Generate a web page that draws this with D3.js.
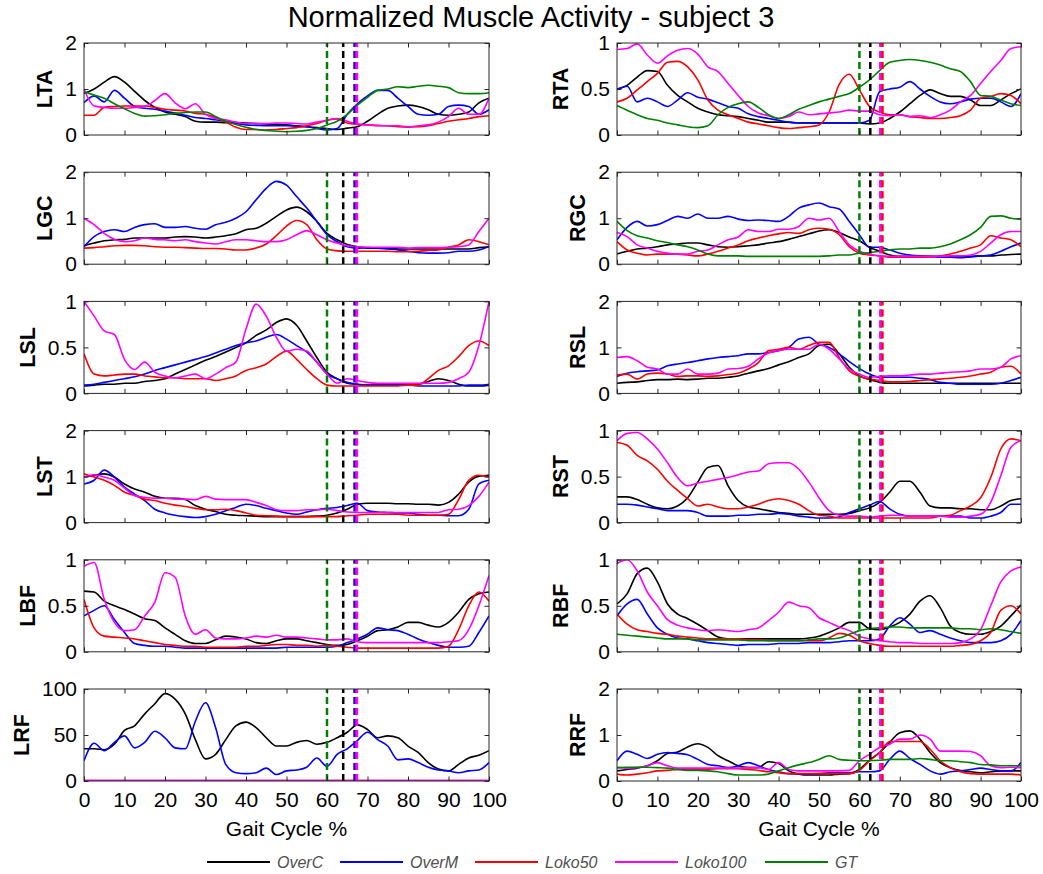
<!DOCTYPE html>
<html><head><meta charset="utf-8">
<script src="https://cdn.jsdelivr.net/npm/d3@7"></script>
<style>body{margin:0;background:#fff;} svg{display:block;}</style>
</head><body><svg id="chart" width="1043" height="874"></svg>
<script>
// ---------------- DATA ----------------
const gaitCycle = [0,2.5,5,7.5,10,12.5,15,17.5,20,22.5,25,27.5,30,32.5,35,37.5,40,42.5,45,47.5,50,52.5,55,57.5,60,62.5,65,67.5,70,72.5,75,77.5,80,82.5,85,87.5,90,92.5,95,97.5,100];
const seriesNames = ["OverC","OverM","Loko50","Loko100","GT"];
const xTickValues = [0,10,20,30,40,50,60,70,80,90,100];
const panelMuscles = ["LTA","RTA","LGC","RGC","LSL","RSL","LST","RST","LBF","RBF","LRF","RRF"];
const panelYTicks = [[0,1,2],[0,0.5,1],[0,1,2],[0,1,2],[0,0.5,1],[0,1,2],[0,1,2],[0,0.5,1],[0,0.5,1],[0,0.5,1],[0,50,100],[0,1,2]];
// toe-off markers (gait cycle %), in series order OverC, OverM, Loko50, Loko100, GT
const toeOffLeft  = [64, 66.8, 67.3, 67.4, 60];
const toeOffRight = [62.7, 65.3, 65.7, 65.2, 60];

const LTA_OverC   = [0.9,1.0,1.15,1.27,1.15,0.95,0.75,0.6,0.5,0.45, 0.4,0.3,0.28,0.28,0.27,0.27,0.26,0.25,0.24,0.23, 0.22,0.2,0.18,0.16,0.14,0.12,0.15,0.18,0.3,0.45, 0.58,0.63,0.65,0.62,0.55,0.45,0.43,0.45,0.5,0.7, 0.8];
const LTA_OverM   = [0.7,0.85,0.72,0.97,0.8,0.62,0.58,0.56,0.52,0.48, 0.43,0.38,0.36,0.33,0.3,0.25,0.22,0.21,0.2,0.2, 0.2,0.19,0.18,0.14,0.11,0.14,0.45,0.68,0.85,0.97, 0.97,0.8,0.62,0.45,0.43,0.45,0.62,0.65,0.62,0.45, 0.55];
const LTA_Loko50  = [0.43,0.43,0.6,0.62,0.63,0.63,0.63,0.6,0.56,0.54, 0.52,0.47,0.45,0.38,0.28,0.17,0.12,0.12,0.11,0.12, 0.14,0.16,0.2,0.25,0.32,0.35,0.26,0.23,0.22,0.21, 0.2,0.18,0.17,0.18,0.2,0.25,0.3,0.33,0.36,0.4, 0.42];
const LTA_Loko100 = [1.0,0.63,0.6,0.58,0.58,0.6,0.62,0.75,0.9,0.7, 0.57,0.68,0.45,0.36,0.33,0.28,0.25,0.25,0.25,0.26, 0.26,0.25,0.24,0.28,0.32,0.36,0.3,0.24,0.22,0.2, 0.2,0.2,0.18,0.2,0.22,0.28,0.4,0.58,0.45,0.45, 0.8];
const LTA_GT      = [0.94,0.87,0.8,0.68,0.57,0.47,0.41,0.42,0.44,0.47, 0.49,0.5,0.5,0.4,0.3,0.23,0.17,0.12,0.1,0.08, 0.07,0.08,0.1,0.14,0.22,0.3,0.45,0.65,0.82,0.97, 1.0,1.05,1.03,1.06,1.08,1.06,1.03,0.92,0.9,0.9, 0.92];

const RTA_OverC   = [0.5,0.54,0.63,0.7,0.69,0.54,0.43,0.36,0.29,0.25, 0.22,0.21,0.2,0.18,0.16,0.14,0.14,0.14,0.13,0.13, 0.13,0.13,0.13,0.13,0.13,0.12,0.13,0.18,0.25,0.34, 0.43,0.49,0.45,0.42,0.42,0.38,0.32,0.32,0.38,0.45, 0.5];
const RTA_OverM   = [0.49,0.53,0.36,0.4,0.36,0.31,0.38,0.46,0.41,0.39, 0.35,0.31,0.29,0.23,0.2,0.18,0.16,0.14,0.13,0.13, 0.13,0.13,0.13,0.13,0.13,0.16,0.47,0.5,0.52,0.58, 0.5,0.42,0.36,0.34,0.36,0.39,0.4,0.4,0.36,0.31, 0.45];
const RTA_Loko50  = [0.36,0.4,0.49,0.58,0.67,0.79,0.8,0.74,0.6,0.38, 0.27,0.22,0.18,0.14,0.12,0.1,0.08,0.07,0.08,0.09, 0.11,0.25,0.55,0.66,0.49,0.31,0.25,0.22,0.22,0.2, 0.19,0.18,0.18,0.19,0.21,0.27,0.4,0.42,0.45,0.43, 0.34];
const RTA_Loko100 = [0.93,0.94,0.99,0.87,0.78,0.86,0.92,0.94,0.88,0.74, 0.69,0.56,0.43,0.31,0.24,0.21,0.18,0.2,0.25,0.22, 0.23,0.24,0.25,0.27,0.26,0.26,0.22,0.21,0.22,0.2, 0.21,0.19,0.22,0.27,0.36,0.43,0.56,0.69,0.81,0.94, 0.96];
const RTA_GT      = [0.32,0.27,0.22,0.18,0.16,0.13,0.11,0.09,0.08,0.1, 0.22,0.3,0.34,0.36,0.3,0.22,0.18,0.22,0.28,0.32, 0.36,0.39,0.42,0.45,0.52,0.6,0.7,0.79,0.81,0.82, 0.81,0.79,0.76,0.72,0.69,0.58,0.43,0.42,0.38,0.34, 0.32];

const LGC_OverC   = [0.4,0.46,0.51,0.53,0.54,0.57,0.57,0.57,0.57,0.59, 0.6,0.59,0.57,0.59,0.62,0.66,0.75,0.78,0.89,1.04, 1.18,1.24,1.14,0.93,0.67,0.53,0.43,0.38,0.35,0.35, 0.35,0.33,0.33,0.33,0.33,0.33,0.33,0.33,0.33,0.36, 0.38];
const LGC_OverM   = [0.38,0.6,0.71,0.75,0.71,0.8,0.86,0.88,0.8,0.8, 0.82,0.78,0.76,0.86,0.91,1.0,1.14,1.4,1.65,1.8, 1.72,1.47,1.22,0.93,0.64,0.49,0.38,0.35,0.36,0.35, 0.33,0.31,0.28,0.25,0.24,0.24,0.25,0.28,0.28,0.31, 0.38];
const LGC_Loko50  = [0.35,0.36,0.38,0.4,0.41,0.41,0.4,0.38,0.37,0.37, 0.36,0.35,0.34,0.34,0.33,0.31,0.31,0.35,0.44,0.62, 0.83,0.95,0.86,0.53,0.33,0.29,0.28,0.28,0.28,0.28, 0.28,0.27,0.27,0.28,0.3,0.31,0.37,0.42,0.53,0.49, 0.42];
const LGC_Loko100 = [1.0,0.86,0.67,0.54,0.49,0.51,0.57,0.54,0.53,0.51, 0.53,0.49,0.46,0.44,0.49,0.53,0.53,0.51,0.49,0.49, 0.53,0.64,0.73,0.64,0.53,0.46,0.4,0.38,0.37,0.37, 0.37,0.37,0.35,0.36,0.36,0.36,0.37,0.38,0.42,0.71, 1.0];

const RGC_OverC   = [0.22,0.28,0.33,0.35,0.38,0.42,0.44,0.46,0.46,0.42, 0.38,0.37,0.38,0.4,0.42,0.46,0.49,0.54,0.6,0.66, 0.72,0.75,0.69,0.59,0.51,0.37,0.28,0.2,0.17,0.17, 0.17,0.17,0.17,0.17,0.17,0.17,0.18,0.18,0.2,0.21, 0.22];
const RGC_OverM   = [0.53,0.8,0.93,0.83,0.86,0.95,1.04,1.0,1.09,1.0, 1.0,1.04,0.98,0.95,0.96,0.95,0.93,1.04,1.22,1.29, 1.33,1.25,1.2,0.93,0.64,0.37,0.37,0.31,0.24,0.2, 0.18,0.17,0.15,0.15,0.14,0.16,0.18,0.2,0.28,0.38, 0.46];
const RGC_Loko50  = [0.49,0.31,0.24,0.2,0.22,0.22,0.22,0.2,0.18,0.22, 0.28,0.35,0.42,0.51,0.57,0.62,0.66,0.69,0.67,0.75, 0.78,0.76,0.64,0.38,0.24,0.2,0.18,0.15,0.15,0.15, 0.15,0.16,0.18,0.22,0.28,0.35,0.42,0.62,0.57,0.53, 0.38];
const RGC_Loko100 = [0.69,0.6,0.42,0.35,0.28,0.24,0.22,0.22,0.28,0.31, 0.42,0.53,0.59,0.75,0.71,0.71,0.76,0.76,0.82,1.0, 0.96,1.0,0.71,0.42,0.28,0.22,0.18,0.17,0.17,0.17, 0.17,0.17,0.17,0.18,0.18,0.2,0.28,0.46,0.64,0.71, 0.71];
const RGC_GT      = [0.93,0.73,0.62,0.57,0.51,0.47,0.42,0.38,0.31,0.22, 0.18,0.18,0.18,0.17,0.17,0.17,0.17,0.17,0.17,0.17, 0.17,0.18,0.2,0.2,0.24,0.25,0.28,0.31,0.33,0.33, 0.35,0.35,0.38,0.44,0.53,0.64,0.8,1.04,1.05,1.0, 0.98];

const LSL_OverC   = [0.08,0.09,0.1,0.1,0.11,0.11,0.13,0.14,0.16,0.21, 0.26,0.31,0.36,0.4,0.45,0.5,0.55,0.63,0.69,0.77, 0.81,0.74,0.57,0.39,0.23,0.16,0.11,0.1,0.09,0.09, 0.09,0.09,0.09,0.1,0.13,0.16,0.14,0.1,0.08,0.08, 0.09];
const LSL_OverM   = [0.09,0.1,0.12,0.14,0.16,0.18,0.21,0.25,0.28,0.31, 0.34,0.37,0.4,0.44,0.48,0.52,0.55,0.57,0.61,0.64, 0.59,0.52,0.45,0.34,0.21,0.16,0.12,0.1,0.09,0.09, 0.09,0.09,0.09,0.08,0.08,0.08,0.08,0.08,0.09,0.09, 0.1];
const LSL_Loko50  = [0.43,0.21,0.19,0.2,0.21,0.21,0.19,0.18,0.17,0.17, 0.16,0.16,0.16,0.14,0.16,0.19,0.25,0.28,0.32,0.4, 0.46,0.37,0.26,0.16,0.09,0.08,0.08,0.08,0.08,0.08, 0.08,0.08,0.09,0.09,0.16,0.25,0.3,0.4,0.52,0.57, 0.52];
const LSL_Loko100 = [1.0,0.84,0.68,0.64,0.37,0.26,0.34,0.23,0.19,0.17, 0.19,0.21,0.16,0.21,0.28,0.34,0.7,0.97,0.84,0.61, 0.46,0.48,0.46,0.34,0.21,0.11,0.16,0.14,0.12,0.11, 0.11,0.11,0.11,0.11,0.11,0.11,0.12,0.16,0.23,0.52, 1.0];

const RSL_OverC   = [0.22,0.24,0.25,0.28,0.3,0.3,0.31,0.3,0.31,0.33, 0.33,0.35,0.38,0.44,0.49,0.54,0.62,0.69,0.78,0.86, 1.04,1.07,0.86,0.57,0.38,0.3,0.24,0.22,0.22,0.22, 0.22,0.22,0.22,0.22,0.22,0.22,0.22,0.22,0.22,0.22, 0.22];
const RSL_OverM   = [0.37,0.44,0.47,0.49,0.51,0.6,0.64,0.67,0.71,0.75, 0.78,0.8,0.82,0.86,0.86,0.89,0.93,1.0,1.18,1.22, 1.07,1.0,0.86,0.69,0.54,0.42,0.35,0.35,0.35,0.35, 0.33,0.3,0.24,0.22,0.2,0.2,0.2,0.2,0.22,0.28, 0.35];
const RSL_Loko50  = [0.4,0.42,0.31,0.42,0.44,0.42,0.37,0.38,0.38,0.37, 0.38,0.41,0.44,0.53,0.67,0.93,0.96,1.0,0.96,1.04, 1.11,1.11,0.78,0.49,0.37,0.31,0.28,0.25,0.25,0.26, 0.28,0.3,0.31,0.33,0.35,0.38,0.42,0.46,0.57,0.59, 0.42];
const RSL_Loko100 = [0.78,0.8,0.71,0.57,0.53,0.42,0.42,0.53,0.42,0.42, 0.44,0.53,0.54,0.59,0.75,0.88,0.93,0.96,0.96,0.96, 1.07,0.96,0.75,0.53,0.42,0.35,0.37,0.38,0.38,0.4, 0.42,0.42,0.44,0.46,0.47,0.49,0.53,0.53,0.57,0.75, 0.82];

const LST_OverC   = [0.99,1.03,1.06,0.99,0.84,0.73,0.66,0.57,0.53,0.53, 0.5,0.37,0.29,0.24,0.18,0.16,0.15,0.14,0.13,0.13, 0.13,0.13,0.13,0.14,0.16,0.21,0.29,0.4,0.42,0.42, 0.42,0.41,0.41,0.4,0.4,0.38,0.44,0.62,0.88,1.01, 1.03];
const LST_OverM   = [0.84,0.92,1.14,0.99,0.77,0.62,0.48,0.29,0.21,0.16, 0.13,0.11,0.13,0.18,0.26,0.33,0.4,0.37,0.31,0.26, 0.21,0.18,0.23,0.28,0.31,0.33,0.37,0.42,0.26,0.23, 0.22,0.21,0.21,0.18,0.16,0.16,0.15,0.15,0.29,0.84, 0.92];
const LST_Loko50  = [1.06,0.99,0.92,0.81,0.66,0.59,0.51,0.48,0.42,0.38, 0.35,0.31,0.28,0.28,0.29,0.26,0.21,0.16,0.15,0.14, 0.13,0.13,0.13,0.13,0.13,0.13,0.15,0.16,0.18,0.18, 0.18,0.18,0.16,0.16,0.16,0.16,0.18,0.5,0.92,1.03, 0.99];
const LST_Loko100 = [0.99,1.04,0.99,0.92,0.75,0.59,0.55,0.53,0.53,0.51, 0.51,0.5,0.57,0.51,0.5,0.5,0.5,0.44,0.37,0.28, 0.26,0.26,0.28,0.28,0.29,0.26,0.23,0.22,0.22,0.22, 0.22,0.22,0.22,0.22,0.22,0.22,0.28,0.29,0.37,0.57, 0.88];

const RST_OverC   = [0.28,0.28,0.25,0.2,0.16,0.15,0.18,0.27,0.44,0.6, 0.62,0.4,0.24,0.17,0.15,0.13,0.11,0.1,0.09,0.09, 0.09,0.09,0.09,0.1,0.13,0.16,0.22,0.33,0.45,0.45, 0.33,0.18,0.16,0.16,0.15,0.15,0.14,0.14,0.18,0.24, 0.26];
const RST_OverM   = [0.2,0.2,0.19,0.17,0.15,0.13,0.13,0.13,0.11,0.07, 0.07,0.07,0.08,0.08,0.09,0.09,0.1,0.09,0.07,0.06, 0.05,0.05,0.06,0.11,0.15,0.19,0.23,0.15,0.09,0.07, 0.07,0.07,0.07,0.07,0.07,0.05,0.05,0.07,0.11,0.2, 0.2];
const RST_Loko50  = [0.87,0.84,0.73,0.67,0.58,0.45,0.35,0.26,0.18,0.2, 0.17,0.15,0.15,0.17,0.2,0.24,0.26,0.24,0.2,0.13, 0.08,0.07,0.05,0.05,0.05,0.05,0.05,0.05,0.05,0.05, 0.05,0.05,0.07,0.08,0.13,0.18,0.27,0.49,0.8,0.91, 0.89];
const RST_Loko100 = [0.89,0.97,0.98,0.91,0.8,0.65,0.49,0.4,0.43,0.45, 0.47,0.49,0.52,0.55,0.56,0.64,0.65,0.65,0.58,0.44, 0.27,0.13,0.08,0.07,0.07,0.06,0.07,0.08,0.08,0.07, 0.07,0.07,0.07,0.06,0.06,0.07,0.09,0.22,0.51,0.82, 0.89];

const LBF_OverC   = [0.66,0.65,0.55,0.5,0.46,0.41,0.36,0.34,0.26,0.19, 0.12,0.09,0.09,0.13,0.17,0.16,0.14,0.1,0.09,0.12, 0.14,0.14,0.12,0.1,0.08,0.07,0.08,0.12,0.17,0.23, 0.24,0.27,0.32,0.32,0.29,0.27,0.32,0.43,0.57,0.63, 0.65];
const LBF_OverM   = [0.39,0.45,0.5,0.35,0.21,0.09,0.07,0.06,0.06,0.05, 0.04,0.04,0.04,0.04,0.04,0.04,0.04,0.04,0.04,0.04, 0.05,0.05,0.05,0.05,0.05,0.06,0.1,0.14,0.19,0.26, 0.24,0.23,0.19,0.14,0.1,0.07,0.05,0.05,0.06,0.21, 0.39];
const LBF_Loko50  = [0.57,0.26,0.17,0.16,0.15,0.14,0.12,0.1,0.08,0.07, 0.06,0.06,0.05,0.05,0.05,0.05,0.06,0.06,0.07,0.08, 0.08,0.07,0.07,0.06,0.07,0.06,0.05,0.04,0.04,0.04, 0.04,0.04,0.04,0.04,0.04,0.04,0.06,0.24,0.5,0.65, 0.55];
const LBF_Loko100 = [0.93,0.97,0.57,0.32,0.23,0.24,0.39,0.54,0.86,0.81, 0.39,0.19,0.24,0.15,0.14,0.14,0.15,0.17,0.16,0.18, 0.16,0.16,0.15,0.14,0.13,0.13,0.14,0.11,0.1,0.1, 0.1,0.1,0.1,0.1,0.1,0.1,0.11,0.12,0.24,0.5, 0.83];

const RBF_OverC   = [0.52,0.63,0.85,0.91,0.76,0.52,0.41,0.36,0.3,0.23, 0.16,0.14,0.14,0.14,0.14,0.14,0.14,0.14,0.14,0.15, 0.17,0.21,0.26,0.32,0.32,0.25,0.24,0.27,0.32,0.41, 0.55,0.61,0.48,0.28,0.21,0.19,0.19,0.22,0.28,0.39, 0.51];
const RBF_OverM   = [0.39,0.52,0.57,0.41,0.26,0.19,0.15,0.14,0.12,0.1, 0.09,0.08,0.07,0.08,0.08,0.08,0.09,0.09,0.09,0.1, 0.1,0.1,0.11,0.12,0.12,0.12,0.14,0.28,0.37,0.3, 0.21,0.23,0.19,0.15,0.12,0.1,0.1,0.1,0.12,0.19, 0.34];
const RBF_Loko50  = [0.41,0.3,0.24,0.22,0.2,0.19,0.17,0.16,0.15,0.14, 0.14,0.14,0.14,0.13,0.13,0.12,0.12,0.12,0.12,0.12, 0.12,0.15,0.2,0.18,0.12,0.09,0.07,0.06,0.06,0.06, 0.06,0.06,0.06,0.06,0.07,0.08,0.12,0.21,0.45,0.5, 0.41];
const RBF_Loko100 = [0.96,1.0,0.88,0.65,0.5,0.35,0.29,0.26,0.24,0.23, 0.24,0.23,0.22,0.24,0.26,0.34,0.43,0.54,0.5,0.48, 0.37,0.32,0.27,0.23,0.17,0.14,0.12,0.11,0.1,0.1, 0.09,0.09,0.09,0.09,0.1,0.14,0.24,0.5,0.76,0.88, 0.92];
const RBF_GT      = [0.19,0.18,0.17,0.16,0.15,0.14,0.14,0.14,0.13,0.13, 0.13,0.13,0.13,0.12,0.12,0.12,0.12,0.12,0.12,0.13, 0.14,0.14,0.15,0.19,0.23,0.25,0.26,0.27,0.27,0.26, 0.26,0.26,0.26,0.26,0.25,0.25,0.24,0.25,0.24,0.22, 0.2];

const LRF_OverC   = [35,35,34,40,55,60,73,84,95,89, 73,45,24,29,45,60,64,58,47,38, 38,42,44,40,42,47,53,61,56,47, 49,47,38,31,20,13,11,18,25,28, 33];
const LRF_OverM   = [22,41,33,42,49,36,42,54,47,36, 35,65,85,58,18,9,8,9,14,7, 11,12,15,25,16,29,35,44,53,45, 38,23,24,20,15,12,11,9,11,12, 20];
const LRF_Loko50  = [0.5,0.5,0.5,0.5,0.5,0.5,0.5,0.5,0.5,0.5, 0.5,0.5,0.5,0.5,0.5,0.5,0.5,0.5,0.5,0.5, 0.5,0.5,0.5,0.5,0.5,0.5,0.5,0.5,0.5,0.5, 0.5,0.5,0.5,0.5,0.5,0.5,0.5,0.5,0.5,0.5, 0.5];
const LRF_Loko100 = [0.5,0.5,0.5,0.5,0.5,0.5,0.5,0.5,0.5,0.5, 0.5,0.5,0.5,0.5,0.5,0.5,0.5,0.5,0.5,0.5, 0.5,0.5,0.5,0.5,0.5,0.5,0.5,0.5,0.5,0.5, 0.5,0.5,0.5,0.5,0.5,0.5,0.5,0.5,0.5,0.5, 0.5];

const RRF_OverC   = [0.22,0.25,0.28,0.33,0.44,0.6,0.63,0.74,0.81,0.73, 0.55,0.44,0.33,0.29,0.29,0.42,0.38,0.22,0.15,0.13, 0.13,0.13,0.15,0.16,0.25,0.45,0.62,0.84,1.05,1.09, 0.91,0.62,0.4,0.29,0.23,0.2,0.18,0.2,0.22,0.22, 0.22];
const RRF_OverM   = [0.44,0.65,0.58,0.49,0.58,0.62,0.6,0.57,0.47,0.36, 0.33,0.29,0.33,0.4,0.33,0.25,0.2,0.16,0.15,0.15, 0.16,0.18,0.18,0.18,0.2,0.2,0.22,0.47,0.65,0.49, 0.36,0.22,0.15,0.2,0.22,0.25,0.28,0.25,0.22,0.22, 0.4];
const RRF_Loko50  = [0.15,0.13,0.15,0.18,0.22,0.23,0.25,0.25,0.25,0.25, 0.27,0.27,0.27,0.25,0.23,0.2,0.18,0.16,0.16,0.16, 0.16,0.16,0.16,0.16,0.23,0.44,0.62,0.86,0.86,0.86, 0.86,0.69,0.44,0.29,0.2,0.16,0.15,0.15,0.15,0.15, 0.13];
const RRF_Loko100 = [0.29,0.28,0.29,0.33,0.4,0.33,0.28,0.28,0.28,0.28, 0.28,0.28,0.28,0.29,0.29,0.25,0.4,0.25,0.22,0.22, 0.22,0.22,0.22,0.23,0.44,0.58,0.73,0.8,0.91,0.91, 1.0,0.91,0.65,0.65,0.65,0.64,0.55,0.33,0.29,0.3, 0.29];
const RRF_GT      = [0.29,0.3,0.3,0.3,0.29,0.28,0.25,0.23,0.23,0.22, 0.2,0.16,0.13,0.13,0.13,0.15,0.22,0.29,0.35,0.4, 0.47,0.55,0.47,0.45,0.44,0.44,0.45,0.47,0.47,0.47, 0.49,0.47,0.44,0.44,0.42,0.4,0.36,0.35,0.33,0.33, 0.33];

// table built from the arrays above (order: OverC, OverM, Loko50, Loko100, GT)
const panelSeries = {
  LTA: [LTA_OverC, LTA_OverM, LTA_Loko50, LTA_Loko100, LTA_GT],
  RTA: [RTA_OverC, RTA_OverM, RTA_Loko50, RTA_Loko100, RTA_GT],
  LGC: [LGC_OverC, LGC_OverM, LGC_Loko50, LGC_Loko100, null],
  RGC: [RGC_OverC, RGC_OverM, RGC_Loko50, RGC_Loko100, RGC_GT],
  LSL: [LSL_OverC, LSL_OverM, LSL_Loko50, LSL_Loko100, null],
  RSL: [RSL_OverC, RSL_OverM, RSL_Loko50, RSL_Loko100, null],
  LST: [LST_OverC, LST_OverM, LST_Loko50, LST_Loko100, null],
  RST: [RST_OverC, RST_OverM, RST_Loko50, RST_Loko100, null],
  LBF: [LBF_OverC, LBF_OverM, LBF_Loko50, LBF_Loko100, null],
  RBF: [RBF_OverC, RBF_OverM, RBF_Loko50, RBF_Loko100, RBF_GT],
  LRF: [LRF_OverC, LRF_OverM, LRF_Loko50, LRF_Loko100, null],
  RRF: [RRF_OverC, RRF_OverM, RRF_Loko50, RRF_Loko100, RRF_GT]
};

// ---------------- STYLE / LAYOUT ----------------
const seriesColors = ["#000000","#0000ff","#ff0000","#ff00ff","#008000"];
const FONT = '"Liberation Sans", Arial, Helvetica, sans-serif';
const colLeft = [84, 617], colRight = [489, 1021];
const rowTop0 = 43, rowStep = 129.2, plotH = 92;
const axisColor = "#262626";

const svg = d3.select("#chart").attr("font-family", FONT);

svg.append("text").attr("x", 531).attr("y", 26.5).attr("text-anchor", "middle")
  .attr("font-size", 29).attr("fill", "#000").text("Normalized Muscle Activity - subject 3");

const defs = svg.append("defs");

panelMuscles.forEach((m, i) => {
  const col = i % 2, row = Math.floor(i / 2);
  const x0 = colLeft[col], x1 = colRight[col];
  const y0 = rowTop0 + row * rowStep, y1 = y0 + plotH;
  const ticks = panelYTicks[i];
  const x = d3.scaleLinear().domain([0, 100]).range([x0, x1]);
  const y = d3.scaleLinear().domain([0, ticks[ticks.length - 1]]).range([y1, y0]);
  const g = svg.append("g");

  const cid = "clip" + i;
  defs.append("clipPath").attr("id", cid).append("rect")
    .attr("x", x0).attr("y", y0).attr("width", x1 - x0).attr("height", plotH);

  const plot = g.append("g").attr("clip-path", `url(#${cid})`);
  const line = d3.line().x((d, j) => x(gaitCycle[j])).y(d => y(d)).curve(d3.curveMonotoneX);
  panelSeries[m].forEach((vals, k) => {
    if (!vals) return;
    plot.append("path").datum(vals).attr("d", line).attr("fill", "none")
      .attr("stroke", seriesColors[k]).attr("stroke-width", 1.6).attr("stroke-linejoin", "round");
  });

  const toe = col === 0 ? toeOffLeft : toeOffRight;
  toe.forEach((t, k) => {
    plot.append("line").attr("x1", x(t)).attr("x2", x(t)).attr("y1", y1).attr("y2", y0)
      .attr("stroke", seriesColors[k]).attr("stroke-width", 2.5).attr("stroke-dasharray", "7,4");
  });

  // axes
  const fmt = d3.format("~g");
  const styleAxis = a => {
    a.select(".domain").remove();
    a.selectAll("line").attr("stroke", axisColor);
    a.selectAll("text").attr("font-size", 21).attr("font-family", FONT).attr("fill", "#000");
  };
  const axL = g.append("g").attr("transform", `translate(${x0},0)`)
    .call(d3.axisLeft(y).tickValues(ticks).tickFormat(fmt).tickSizeInner(-4.5).tickSizeOuter(0).tickPadding(7));
  styleAxis(axL);
  const axR = g.append("g").attr("transform", `translate(${x1},0)`)
    .call(d3.axisRight(y).tickValues(ticks).tickFormat(() => "").tickSizeInner(-4.5).tickSizeOuter(0));
  styleAxis(axR);
  const axT = g.append("g").attr("transform", `translate(0,${y0})`)
    .call(d3.axisTop(x).tickValues(xTickValues).tickFormat(() => "").tickSizeInner(-4.5).tickSizeOuter(0));
  styleAxis(axT);
  const axB = g.append("g").attr("transform", `translate(0,${y1})`)
    .call(d3.axisBottom(x).tickValues(xTickValues).tickFormat(row === 5 ? fmt : () => "")
      .tickSizeInner(-4.5).tickSizeOuter(0).tickPadding(11.5));
  styleAxis(axB);

  g.append("rect").attr("x", x0).attr("y", y0).attr("width", x1 - x0).attr("height", plotH)
    .attr("fill", "none").attr("stroke", axisColor).attr("stroke-width", 1);

  // y label
  let minX = 0;
  axL.selectAll("text").each(function () { const b = this.getBBox(); minX = Math.min(minX, b.x); });
  const lx = x0 + minX - 13, ly = (y0 + y1) / 2;
  g.append("text").attr("x", lx).attr("y", ly).attr("transform", `rotate(-90,${lx},${ly})`)
    .attr("text-anchor", "middle").attr("font-size", 21.5).attr("font-weight", "bold").attr("fill", "#000").text(m);

  if (row === 5) {
    g.append("text").attr("x", (x0 + x1) / 2).attr("y", y1 + 55).attr("text-anchor", "middle")
      .attr("font-size", 21).attr("fill", "#000").text("Gait Cycle %");
  }
});

// legend
const legendStarts = [207, 340, 475, 615, 765];
const legendY = 862;
const lg = svg.append("g");
seriesNames.forEach((name, k) => {
  const sx = legendStarts[k];
  lg.append("line").attr("x1", sx).attr("x2", sx + 63).attr("y1", legendY).attr("y2", legendY)
    .attr("stroke", seriesColors[k]).attr("stroke-width", 2);
  lg.append("text").attr("x", sx + 70).attr("y", legendY).attr("dy", "0.35em")
    .attr("font-size", 16).attr("font-style", "italic").attr("fill", "#505050").text(name);
});
</script>
</body></html>
